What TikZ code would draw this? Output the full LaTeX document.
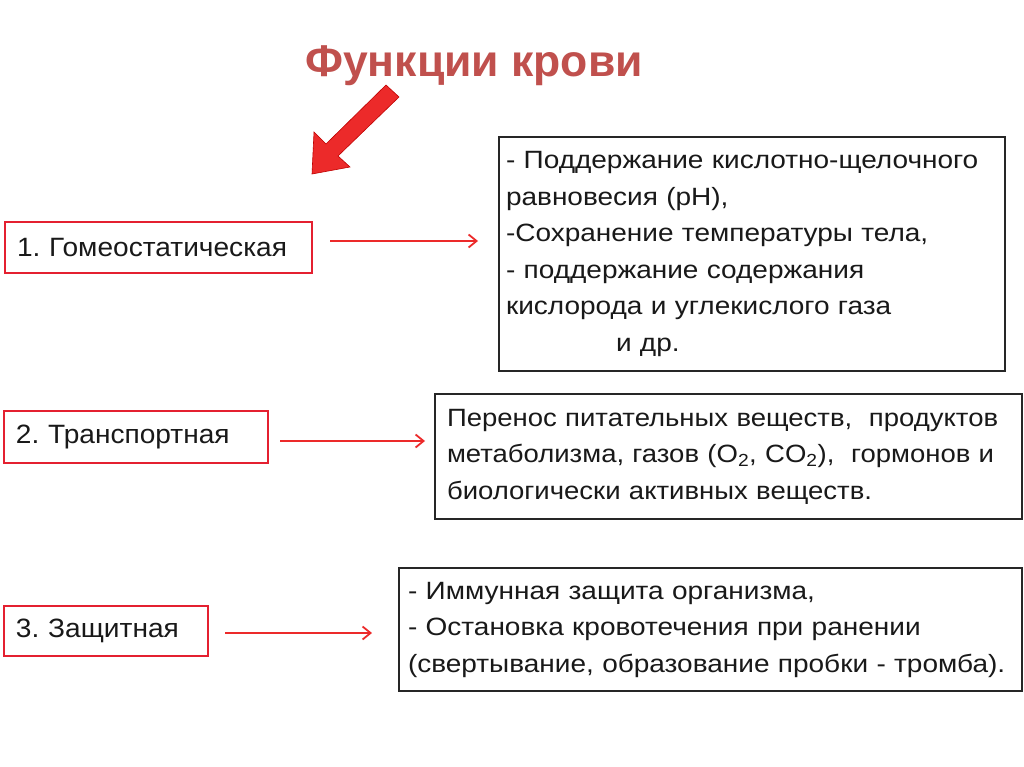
\documentclass[tikz,border=0pt]{standalone}
\usepackage{fontspec}
\setmainfont{Liberation Sans}
\newfontfamily\leftfont[FakeStretch=1.06]{Liberation Sans}
\newfontfamily\rightfont[FakeStretch=1.12]{Liberation Sans}
\newfontfamily\midfont[FakeStretch=1.10]{Liberation Sans}
\usetikzlibrary{arrows.meta}
\definecolor{titlered}{RGB}{192,80,77}
\definecolor{boxred}{RGB}{228,32,48}
\definecolor{arrred}{RGB}{236,42,42}
\frenchspacing
\begin{document}
\begin{tikzpicture}[x=1pt,y=-1pt,
  redbox/.style={draw=boxred, line width=2pt, anchor=north west, align=left,
    font=\leftfont\fontsize{26.5}{32}\selectfont, text=black!90},
  blackbox/.style={draw=black!85, line width=2pt, anchor=north west, align=left,
    font=\rightfont\fontsize{25}{36.5}\selectfont, text=black!90},
  conn/.style={draw=arrred, line width=1.8pt, -{Straight Barb[length=8pt,width=13pt]}}
]
\useasboundingbox[fill=white] (0,0) rectangle (1024,767);
\node[anchor=base west, text=titlered, inner sep=0,
  font=\bfseries\fontsize{44.5}{54}\selectfont] (title) at (305,77) {Функции крови};
\fill[arrred, draw=red!75!black, line width=0.6pt]
  (386,85) -- (326,144) -- (314,132) -- (312,174) -- (350,167) -- (338,156) -- (399,97) -- cycle;

% left boxes
\node[redbox, minimum width=307, minimum height=51, inner xsep=12, text width=283] (b1) at (4,221) {1. Гомеостатическая};
\node[redbox, minimum width=264, minimum height=52, inner xsep=12, text width=240] (b2) at (3,410) {2. Транспортная};
\node[redbox, minimum width=204, minimum height=50, inner xsep=12, text width=180] (b3) at (3,605) {3. Защитная};

% right boxes
\node[blackbox, minimum width=506, minimum height=234, inner xsep=7, text width=492] (r1) at (498,136)
 {- Поддержание кислотно-щелочного\\равновесия (pH),\\-Сохранение температуры тела,\\- поддержание содержания\\кислорода и углекислого газа\\\hspace*{110pt}и др.};
\node[blackbox, font=\midfont\fontsize{25}{36.5}\selectfont, minimum width=587, minimum height=125, inner xsep=12, text width=563] (r2) at (434,393)
 {Перенос питательных веществ,\ \ продуктов\\метаболизма, газов (O\textsubscript{2}, CO\textsubscript{2}),\ \ гормонов и\\биологически активных веществ.};
\node[blackbox, minimum width=623, minimum height=123, inner xsep=9, text width=605] (r3) at (398,567)
 {- Иммунная защита организма,\\- Остановка кровотечения при ранении\\(свертывание, образование пробки - тромба).};

% connectors
\coordinate (a1s) at (330,241); \coordinate (a1e) at (478,241);
\coordinate (a2s) at (280,441); \coordinate (a2e) at (425,441);
\coordinate (a3s) at (225,633); \coordinate (a3e) at (372,633);
\draw[conn] (a1s) -- (a1e);
\draw[conn] (a2s) -- (a2e);
\draw[conn] (a3s) -- (a3e);
\end{tikzpicture}
\end{document}
